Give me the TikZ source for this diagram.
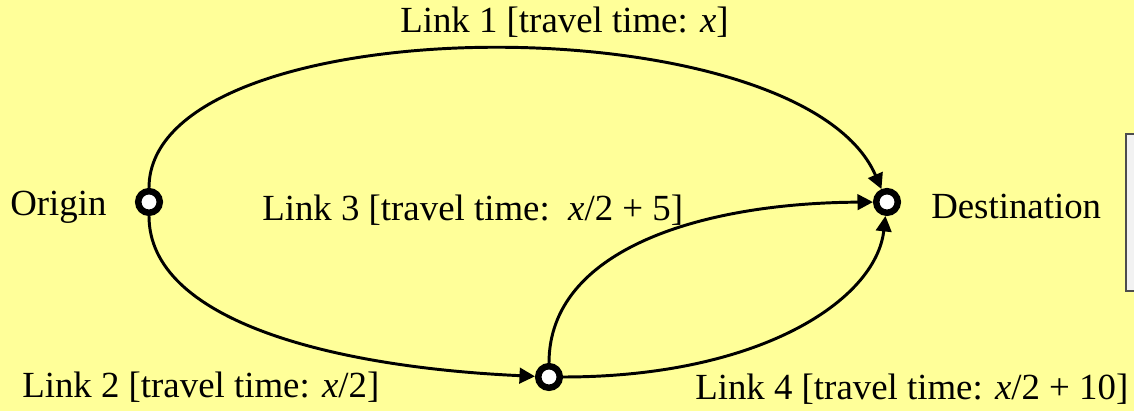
\documentclass[tikz,border=0pt]{standalone}
\usepackage{fontspec}
\setmainfont{Liberation Serif}
\usetikzlibrary{arrows.meta}
\definecolor{PaleYellow}{HTML}{FFFF99}
\definecolor{PanelGray}{HTML}{F2F2F2}
\definecolor{EdgeGray}{HTML}{4D4D4D}
\tikzset{
  vertex/.style={circle, draw=black, fill=white, line width=4.6pt, minimum size=5.4mm, inner sep=0pt},
  lbl/.style={anchor=base west, inner sep=0pt, font=\fontsize{26.2}{31}\selectfont},
  link/.style={-{Triangle[length=11pt,width=11pt]}, line width=2.1pt, draw=black}
}
\begin{document}
\begin{tikzpicture}[x=0.025cm,y=-0.025cm]
\clip (0,0) rectangle (1134,411);
\fill[PaleYellow] (0,0) rectangle (1134,411);
\draw[fill=PanelGray, draw=EdgeGray, line width=1.5pt] (1126,134) rectangle (1150,291);
\node[vertex] (orig) at (149,202) {};
\node[vertex] (dest) at (887,202) {};
\node[vertex] (mid) at (549,377) {};
\draw[link] (orig) .. controls (149,5) and (800,0) .. (dest);
\draw[link] (orig) .. controls (149,320) and (330,367) .. (mid);
\draw[link] (mid) .. controls (549,250) and (700,203) .. (dest);
\draw[link] (mid) .. controls (760,377) and (876,300) .. (dest);
\node[lbl] (l1) at (400,33) {Link 1 [travel time: \textit{x}]};
\node[lbl] (l3) at (262,221) {Link 3 [travel time:\ \ \textit{x}/2 + 5]};
\node[lbl] (l2) at (22,398) {Link 2 [travel time: \textit{x}/2]};
\node[lbl] (l4) at (695,400) {Link 4 [travel time: \textit{x}/2 + 10]};
\node[lbl] (on) at (10,216) {Origin};
\node[lbl] (dn) at (931,219) {Destination};
\end{tikzpicture}
\end{document}
